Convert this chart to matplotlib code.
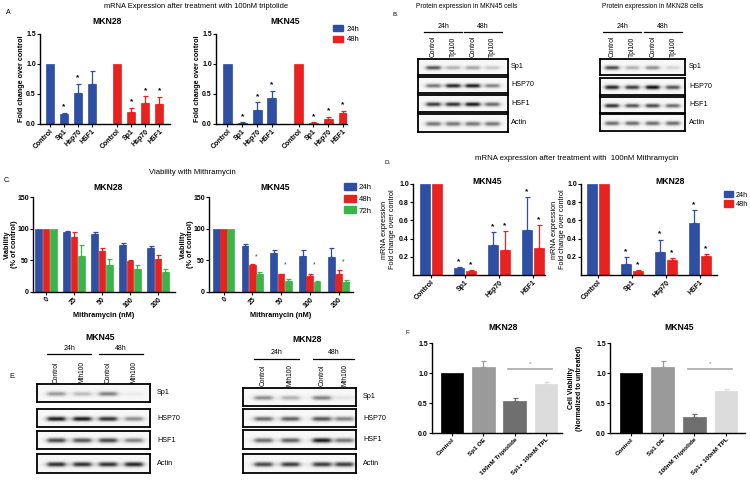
import numpy as np
import matplotlib
matplotlib.use("Agg")
import matplotlib.pyplot as plt
from matplotlib.lines import Line2D
from matplotlib.patches import Patch

plt.rcParams["font.family"] = ["Liberation Sans", "DejaVu Sans"]

W, H = 750, 480
BLUE = "#2f4fa2"
RED = "#e8231f"
GREEN = "#3db34b"

# ---- A: mRNA after 100nM triptolide
genes = ["Control", "Sp1", "Hsp70", "HSF1"]
tpl28_24 = [1.0, 0.17, 0.52, 0.67]
tpl28_24_err = [0.0, 0.02, 0.15, 0.22]
tpl28_48 = [1.0, 0.20, 0.35, 0.33]
tpl28_48_err = [0.0, 0.07, 0.11, 0.12]
tpl28_24_star = [0, 1, 1, 0]
tpl28_48_star = [0, 1, 1, 1]
tpl45_24 = [1.0, 0.02, 0.24, 0.44]
tpl45_24_err = [0.0, 0.01, 0.12, 0.11]
tpl45_48 = [1.0, 0.02, 0.09, 0.19]
tpl45_48_err = [0.0, 0.01, 0.03, 0.03]
tpl45_24_star = [0, 1, 1, 1]
tpl45_48_star = [0, 1, 1, 1]

# ---- C: viability with mithramycin
doses = ["0", "25", "50", "100", "200"]
via28 = {"24h": [100, 95, 92, 75, 70], "48h": [100, 87, 64, 49, 52], "72h": [100, 57, 43, 37, 32]}
via28_err = {"24h": [0, 1, 3, 3, 3], "48h": [0, 8, 5, 2, 6], "72h": [0, 17, 9, 6, 5]}
via45 = {"24h": [100, 72, 62, 57, 55], "48h": [100, 42, 28, 26, 28], "72h": [100, 29, 18, 16, 16]}
via45_err = {"24h": [0, 4, 5, 9, 14], "48h": [0, 3, 1, 2, 6], "72h": [0, 2, 2, 1, 3]}
via45_star_y = [None, 55, 43, 43, 47]

# ---- D: mRNA after 100nM mithramycin
mth45_24 = [1.0, 0.08, 0.33, 0.50]
mth45_24_err = [0.0, 0.01, 0.14, 0.36]
mth45_48 = [1.0, 0.04, 0.27, 0.30]
mth45_48_err = [0.0, 0.01, 0.21, 0.25]
mth28_24 = [1.0, 0.12, 0.25, 0.57]
mth28_24_err = [0.0, 0.08, 0.14, 0.14]
mth28_48 = [1.0, 0.04, 0.17, 0.21]
mth28_48_err = [0.0, 0.01, 0.02, 0.02]

# ---- F: Sp1 rescue
rescue_labels = ["Control", "Sp1 OE", "100nM Triptolide", "Sp1+ 100nM TPL"]
rescue_colors = ["#000000", "#9a9a9a", "#6f6f6f", "#dcdcdc"]
rescue28 = [1.0, 1.10, 0.53, 0.82]
rescue28_err = [0.0, 0.10, 0.06, 0.03]
rescue45 = [1.0, 1.10, 0.27, 0.70]
rescue45_err = [0.0, 0.10, 0.05, 0.04]

# ---- western blot band intensities (lanes: ctrl 24h, drug 24h, ctrl 48h, drug 48h)
blot_rows = ["Sp1", "HSP70", "HSF1", "Actin"]
blot_b45 = [[0.7, 0.3, 0.35, 0.2], [0.55, 0.9, 0.95, 0.5], [0.8, 0.85, 0.95, 0.6], [0.55, 0.55, 0.55, 0.55]]
blot_b28 = [[0.75, 0.3, 0.45, 0.15], [0.9, 0.8, 1.0, 0.7], [0.85, 0.7, 0.75, 0.6], [0.6, 0.6, 0.6, 0.6]]
blot_e45 = [[0.4, 0.25, 0.5, 0.05], [0.95, 0.95, 0.85, 0.45], [0.75, 0.7, 0.75, 0.5], [0.85, 0.85, 0.85, 0.9]]
blot_e28 = [[0.45, 0.3, 0.5, 0.08], [0.6, 0.65, 0.7, 0.5], [0.6, 0.65, 0.95, 0.55], [0.75, 0.8, 0.8, 0.8]]


fig = plt.figure(figsize=(7.5, 4.8), dpi=100)


def px_axes(left, top, right, bottom):
    return fig.add_axes([left / W, 1 - bottom / H, (right - left) / W, (bottom - top) / H])


def ftext(x, y, s, **kw):
    kw.setdefault("ha", "center")
    kw.setdefault("va", "center")
    fig.text(x / W, 1 - y / H, s, **kw)


def fline(x0, x1, y, **kw):
    fig.add_artist(Line2D([x0 / W, x1 / W], [1 - y / H, 1 - y / H], transform=fig.transFigure, **kw))


def style(ax, ysize=5):
    for s in ["top", "right"]:
        ax.spines[s].set_visible(False)
    for s in ["left", "bottom"]:
        ax.spines[s].set_linewidth(1.0)
    ax.tick_params(length=2, width=0.8, pad=1)
    ax.tick_params(axis="y", labelsize=ysize)
    for lab in ax.get_yticklabels():
        lab.set_fontweight("bold")


def ylabel_at(ax, text, x_px, left, right, **kw):
    # x_px is the right-hand edge of the rotated label
    ax.set_ylabel(text, **kw)
    ax.yaxis.set_label_coords((x_px - left) / (right - left), 0.5)


def bars(ax, x, vals, errs, color, width, stars=None, star_off=0.03):
    x = np.asarray(x, dtype=float)
    vals = np.asarray(vals, dtype=float)
    errs = np.asarray(errs, dtype=float)
    ax.bar(x, vals, width, color=color, edgecolor=color, linewidth=0.5, zorder=2)
    m = errs > 0
    ax.errorbar(x[m], vals[m], yerr=[np.zeros(m.sum()), errs[m]], fmt="none",
                ecolor=color, elinewidth=0.9, capsize=1.8, capthick=0.9, zorder=1)
    if stars is not None:
        for xi, v, e, s in zip(x, vals, errs, stars):
            if s:
                ax.text(xi, v + e + star_off, "*", ha="center", va="bottom", fontsize=6, fontweight="bold")


def xlabels(ax, ticks, labels, size=5):
    ax.set_xticks(ticks)
    ax.set_xticklabels(labels, rotation=45, ha="right", rotation_mode="anchor", fontsize=size, fontweight="bold")


# ================= A =================
ftext(8, 12, "A", fontsize=5)
ftext(196, 7, "mRNA Expression after treatment with 100nM triptolide", fontsize=5.4)
xa = np.r_[np.arange(4), np.arange(4) + 4.8]
a_specs = [
    (40, 170, 14.0, 50, tpl28_24, tpl28_24_err, tpl28_48, tpl28_48_err, tpl28_24_star, tpl28_48_star, "MKN28", 107),
    (216, 347, 14.8, 227.5, tpl45_24, tpl45_24_err, tpl45_48, tpl45_48_err, tpl45_24_star, tpl45_48_star, "MKN45", 285),
]
for left, right, step, c0, v24, e24, v48, e48, s24, s48, name, tx in a_specs:
    ax = px_axes(left, 34, right, 124)
    bars(ax, xa[:4], v24, e24, BLUE, 0.6, s24, 0.04)
    bars(ax, xa[4:], v48, e48, RED, 0.6, s48, 0.04)
    lo = -(c0 - left) / step
    ax.set_xlim(lo, lo + (right - left) / step)
    ax.set_ylim(0, 1.5)
    ax.set_yticks([0.0, 0.5, 1.0, 1.5])
    ax.set_yticklabels(["0.0", "0.5", "1.0", "1.5"])
    xlabels(ax, xa, genes * 2)
    style(ax)
    ylabel_at(ax, "Fold change over control", left - 15, left, right, fontsize=5.2, fontweight="bold")
    ftext(tx, 21, name, fontsize=6.2, fontweight="bold")
fig.legend(handles=[Patch(color=BLUE, label="24h"), Patch(color=RED, label="48h")],
           loc="upper left", bbox_to_anchor=(330 / W, 1 - 22 / H), frameon=False, fontsize=5.5,
           handlelength=1.3, handleheight=0.9, labelspacing=0.35, handletextpad=0.5, borderaxespad=0)


# ================= blots =================
def blot(left, right, rows, data, fracs, lane_names, label_x, head_y, line_y, lane_bottom, lab_size=5.2):
    nx, ny = 160, 24
    xs = np.linspace(0, 1, nx)
    ys = np.linspace(0, 1, ny)
    for (top, bottom), vals, rname in zip(rows, data, blot_rows):
        ax = px_axes(left, top, right, bottom)
        img = np.full((ny, nx), 0.97)
        for f, v in zip(fracs, vals):
            px = 1 / (1 + ((xs - f) / 0.08) ** 6)
            py = np.exp(-((ys - 0.55) / 0.13) ** 2)
            img -= 0.92 * v * np.outer(py, px)
        ax.imshow(np.clip(img, 0, 1), cmap="gray", vmin=0, vmax=1, aspect="auto",
                  extent=[0, 1, 1, 0], interpolation="bilinear")
        ax.set_xticks([])
        ax.set_yticks([])
        for s in ax.spines.values():
            s.set_linewidth(1.3)
        ftext(label_x, (top + bottom) / 2, rname, fontsize=lab_size, ha="left")
    lanes = [left + f * (right - left) for f in fracs]
    for lx, nm in zip(lanes, lane_names):
        ftext(lx, lane_bottom, nm, fontsize=4.8, rotation=90, va="bottom")
    for (a, b), hh in zip([(0, 1), (2, 3)], ["24h", "48h"]):
        fline(lanes[a] - 9, lanes[b] + 9, line_y, color="black", lw=0.9)
        ftext((lanes[a] + lanes[b]) / 2, head_y, hh, fontsize=5)


ftext(395, 14, "B.", fontsize=4.5)
ftext(467, 7, "Protein expression in MKN45 cells", fontsize=4.8)
blot(418, 508, [(59, 75), (77, 93), (95, 112), (114, 132)], blot_b45, np.linspace(0.17, 0.83, 4),
     ["Control", "Tpl100", "Control", "Tpl100"], 511, 27, 32, 57)
ftext(653, 7, "Protein expression in MKN28 cells", fontsize=4.8)
blot(600, 685, [(59, 75), (78, 95), (97, 113), (114, 131)], blot_b28, [0.14, 0.38, 0.62, 0.86],
     ["Control", "Tpl100", "Control", "Tpl100"], 689, 27, 32, 57)

ftext(13, 377, "E.", fontsize=5)
ftext(100, 338, "MKN45", fontsize=6.2, fontweight="bold")
blot(37, 150, [(384, 402), (409, 427), (431, 449), (454, 473)], blot_e45, np.linspace(0.17, 0.86, 4),
     ["Control", "Mth100", "Control", "Mth100"], 157, 348, 354, 383)
ftext(307, 339, "MKN28", fontsize=6.2, fontweight="bold")
blot(243, 356, [(388, 406), (409, 427), (430, 449), (454, 473)], blot_e28, [0.18, 0.42, 0.7, 0.9],
     ["Control", "Mth100", "Control", "Mth100"], 363, 353, 359, 386)


# ================= C =================
ftext(7, 181, "C.", fontsize=5)
ftext(192, 172, "Viability with Mithramycin", fontsize=5.6)
xc = np.arange(len(doses))
c_specs = [(33, 175, 28.0, 46, via28, via28_err, None, "MKN28", 108),
           (209, 353, 28.75, 223.5, via45, via45_err, via45_star_y, "MKN45", 275)]
for left, right, step, c0, vals, errs, star_y, name, tx in c_specs:
    ax = px_axes(left, 197, right, 292)
    bw = 7.2 / step
    for k, (t, col) in enumerate(zip(["24h", "48h", "72h"], [BLUE, RED, GREEN])):
        bars(ax, xc + (k - 1) * bw, vals[t], errs[t], col, bw * 0.95)
    if star_y is not None:
        for xi, sy in zip(xc, star_y):
            if sy is not None:
                ax.text(xi + bw * 0.6, sy, "*", ha="center", va="center", fontsize=5, color="#444444")
    lo = -(c0 - left) / step
    ax.set_xlim(lo, lo + (right - left) / step)
    ax.set_ylim(0, 150)
    ax.set_yticks([0, 50, 100, 150])
    xlabels(ax, xc, doses)
    style(ax)
    ylabel_at(ax, "Viability\n(% of control)", left - 15, left, right, fontsize=5.3, fontweight="bold",
              linespacing=1.1)
    ax.set_xlabel("Mithramycin (nM)", fontsize=5.3, fontweight="bold", labelpad=2)
    ftext(tx, 188, name, fontsize=6.2, fontweight="bold")
fig.legend(handles=[Patch(color=c, label=t) for c, t in zip([BLUE, RED, GREEN], ["24h", "48h", "72h"])],
           loc="upper left", bbox_to_anchor=(341 / W, 1 - 180 / H), frameon=False, fontsize=5.6,
           handlelength=1.5, handleheight=1.0, labelspacing=0.45, handletextpad=0.4, borderaxespad=0)


# ================= D =================
ftext(388, 163, "D.", fontsize=4.5)
ftext(577, 158, "mRNA expression after treatment with  100nM Mithramycin", fontsize=5.6)
xd = np.arange(4)
d_specs = [(413, 545, 34.0, 431, mth45_24, mth45_24_err, mth45_48, mth45_48_err, "MKN45", 487, 396),
           (581, 717, 34.0, 598, mth28_24, mth28_24_err, mth28_48, mth28_48_err, "MKN28", 670, 566)]
for left, right, step, c0, v24, e24, v48, e48, name, tx, lx in d_specs:
    ax = px_axes(left, 184, right, 275)
    bw = 10 / step
    bars(ax, xd - bw * 0.6, v24, e24, BLUE, bw, [0, 1, 1, 1], 0.02)
    bars(ax, xd + bw * 0.6, v48, e48, RED, bw, [0, 1, 1, 1], 0.02)
    lo = -(c0 - left) / step
    ax.set_xlim(lo, lo + (right - left) / step)
    ax.set_ylim(0, 1.0)
    ax.set_yticks([0.2, 0.4, 0.6, 0.8, 1.0])
    xlabels(ax, xd, genes)
    style(ax)
    ylabel_at(ax, "mRNA expression\nFold change over control", lx, left, right, fontsize=5.2, linespacing=1.3)
    ftext(tx, 181, name, fontsize=6.2, fontweight="bold")
fig.legend(handles=[Patch(color=BLUE, label="24h"), Patch(color=RED, label="48h")],
           loc="upper left", bbox_to_anchor=(721 / W, 1 - 188 / H), frameon=False, fontsize=5.2,
           handlelength=1.3, handleheight=1.0, labelspacing=0.25, handletextpad=0.3, borderaxespad=0)


# ================= F =================
ftext(408, 333, "F.", fontsize=4.5)
xf = np.arange(4)
f_specs = [(432, 562, 31.3, 452, rescue28, rescue28_err, "MKN28", 503, False),
           (610, 745, 31.7, 631, rescue45, rescue45_err, "MKN45", 679, True)]
for left, right, step, c0, vals, errs, name, tx, ylab in f_specs:
    ax = px_axes(left, 343, right, 433)
    bw = 22.5 / step
    for xi, v, e, col in zip(xf, vals, errs, rescue_colors):
        bars(ax, [xi], [v], [e], col, bw)
    ax.plot([xf[2] - 0.2, xf[3] + 0.2], [1.07, 1.07], color="#a8a8a8", lw=1.2)
    ax.text((xf[2] + xf[3]) / 2, 1.15, "*", ha="center", va="center", fontsize=4.5, color="#888888")
    lo = -(c0 - left) / step
    ax.set_xlim(lo, lo + (right - left) / step)
    ax.set_ylim(0, 1.5)
    ax.set_yticks([0.0, 0.5, 1.0, 1.5])
    ax.set_yticklabels(["0.0", "0.5", "1.0", "1.5"])
    xlabels(ax, xf, rescue_labels, size=4.6)
    style(ax)
    if ylab:
        ylabel_at(ax, "Cell Viability\n(Normalized to untreated)", 583, left, right, fontsize=5,
                  fontweight="bold", linespacing=1.2)
    ftext(tx, 328, name, fontsize=6.2, fontweight="bold")

fig.savefig("out.png", dpi=100)
